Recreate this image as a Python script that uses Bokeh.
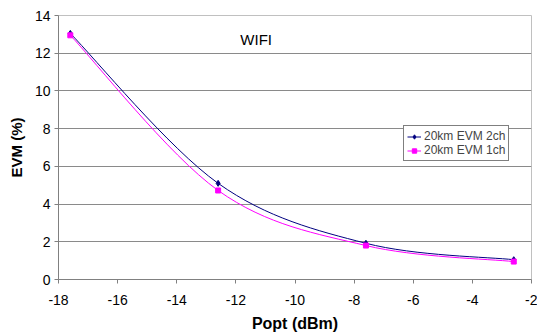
from bokeh.plotting import figure
from bokeh.models import (Range1d, SingleIntervalTicker, Legend, LegendItem, Label,
                          ColumnDataSource, CustomJSTickFormatter)
from bokeh.embed import file_html
from bokeh.resources import INLINE

# ---- data ----
popt = [-17.6, -12.6, -7.6, -2.6]
evm_2ch = [13.05, 5.1, 1.92, 1.05]
evm_1ch = [12.95, 4.72, 1.8, 0.95]
series_names = ["20km EVM 2ch", "20km EVM 1ch"]
chart_title = "WIFI"


def smooth_segments(xs, ys):
    """Catmull-Rom style Bezier control points for a smoothed line."""
    n = len(xs)
    d = dict(x0=[], y0=[], x1=[], y1=[], cx0=[], cy0=[], cx1=[], cy1=[])
    for i in range(n - 1):
        xp, yp = (xs[i - 1], ys[i - 1]) if i > 0 else (xs[i], ys[i])
        xn, yn = (xs[i + 2], ys[i + 2]) if i + 2 < n else (xs[i + 1], ys[i + 1])
        d["x0"].append(xs[i]); d["y0"].append(ys[i])
        d["x1"].append(xs[i + 1]); d["y1"].append(ys[i + 1])
        d["cx0"].append(xs[i] + (xs[i + 1] - xp) / 6.0)
        d["cy0"].append(ys[i] + (ys[i + 1] - yp) / 6.0)
        d["cx1"].append(xs[i + 1] - (xn - xs[i]) / 6.0)
        d["cy1"].append(ys[i + 1] - (yn - ys[i]) / 6.0)
    return ColumnDataSource(d)


FONT = "Liberation Sans"

p = figure(width=537, height=334, output_backend="svg", toolbar_location=None,
           x_range=Range1d(-18, -2), y_range=Range1d(0, 14),
           min_border_left=58, min_border_right=6, min_border_top=15, min_border_bottom=55)

p.background_fill_color = "white"
p.border_fill_color = "white"
p.outline_line_color = "#c0c0c0"
p.outline_line_width = 1

p.xaxis.ticker = SingleIntervalTicker(interval=2)
p.yaxis.ticker = SingleIntervalTicker(interval=2)
p.xgrid.visible = False
p.ygrid.grid_line_color = "#8a8a8a"
p.ygrid.grid_line_width = 1

fmt = CustomJSTickFormatter(code="return String(tick);")
for ax in (p.xaxis, p.yaxis):
    ax.formatter = fmt
    ax.axis_line_color = "#808080"
    ax.major_tick_line_color = "#808080"
    ax.major_tick_out = 4
    ax.major_tick_in = 0
    ax.minor_tick_line_color = None
    ax.major_label_text_font = FONT
    ax.major_label_text_font_size = "14px"
    ax.major_label_text_color = "black"
    ax.axis_label_text_font = FONT
    ax.axis_label_text_font_style = "bold"
    ax.axis_label_text_color = "black"

p.xaxis.axis_label = "Popt (dBm)"
p.xaxis.axis_label_text_font_size = "16px"
p.xaxis.major_label_standoff = 11
p.xaxis.axis_label_standoff = 7
p.yaxis.axis_label = "EVM (%)"
p.yaxis.axis_label_text_font_size = "15px"
p.yaxis.major_label_standoff = 4
p.yaxis.axis_label_standoff = 7

colors = ["#000080", "#FF00FF"]
markers = ["diamond", "square"]
msizes = [6, 5]
items = []
for name, ys, c, m, ms in zip(series_names, [evm_2ch, evm_1ch], colors, markers, msizes):
    src = smooth_segments(popt, ys)
    r1 = p.bezier(x0="x0", y0="y0", x1="x1", y1="y1", cx0="cx0", cy0="cy0",
                  cx1="cx1", cy1="cy1", source=src, line_color=c, line_width=1)
    r2 = p.scatter(popt, ys, marker=m, size=ms, color=c)
    items.append(LegendItem(label=name, renderers=[r1, r2]))

legend = Legend(items=items, location=(345, 118), orientation="vertical",
                label_text_font=FONT, label_text_font_size="12px",
                label_height=11, glyph_height=11, glyph_width=14,
                label_standoff=3, spacing=0, padding=3, margin=0,
                border_line_color="black", border_line_width=1,
                background_fill_color="white", background_fill_alpha=1)
p.add_layout(legend, "center")

title = Label(x=-11.85, y=12.75, text=chart_title, text_font=FONT,
              text_font_size="15px", text_color="black", text_baseline="alphabetic")
p.add_layout(title)

open("out.html", "w").write(file_html(p, INLINE))
